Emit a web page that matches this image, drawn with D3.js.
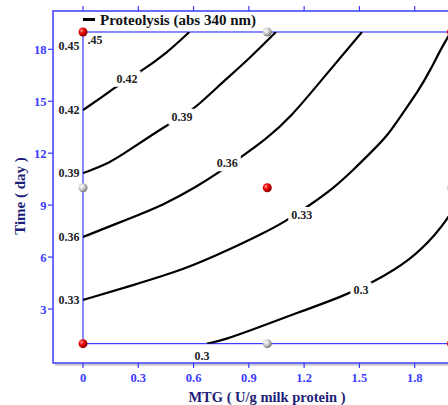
<!DOCTYPE html>
<html>
  <head>
    <meta charset="utf-8">
    <title>Proteolysis contour</title>
    <style>
      body { margin: 0; background: #fff; }
      svg { display: block; }
      text { font-family: "Liberation Serif", "Times New Roman", serif; font-weight: bold; }
    </style>
  </head>
  <body>
    <div id="chart"></div>
    <script src="https://d3js.org/d3.v7.min.js"></script>
    <script>
    // axis ticks
    var xTicks = [0, 0.3, 0.6, 0.9, 1.2, 1.5, 1.8],
        yTicks = [3, 6, 9, 12, 15, 18];

    // contour lines: [MTG, day]
    var c030 = [[0.673,1.0],[0.765,1.21],[0.944,1.9],[1.161,2.77],[1.4,3.69],[1.568,4.5],[1.78,5.83],[1.921,7.39],[1.98,8.26],[2.0,8.6]],
        c033 = [[0,3.52],[0.271,4.38],[0.544,5.25],[0.798,6.45],[0.978,7.37],[1.096,8.04],[1.232,9.01],[1.358,9.97],[1.467,11.03],[1.575,12.18],[1.655,13.05],[1.727,14.2],[1.818,15.55],[1.89,16.9],[1.944,18.06],[1.997,19.0]],
        c036 = [[0,7.16],[0.255,8.24],[0.436,9.01],[0.617,10.06],[0.743,10.93],[0.861,11.8],[0.988,12.76],[1.129,14.09],[1.308,16.4],[1.514,19.0]],
        c039 = [[0,10.85],[0.146,11.43],[0.255,12.21],[0.456,13.63],[0.537,14.09],[0.608,14.61],[0.765,16.17],[0.906,17.5],[1.047,19.0]],
        c042 = [[0,14.49],[0.157,15.65],[0.239,16.28],[0.309,16.69],[0.454,17.77],[0.577,19.0]];

    // labels sitting on the lines
    var lineLabels = ["0.42", "0.39", "0.36", "0.33", "0.3"],
        lineLabelPos = [[0.239,16.3],[0.537,14.1],[0.783,11.42],[1.187,8.43],[1.508,4.1]];

    // labels left of the design box
    var edgeLabels = ["0.45", "0.42", "0.39", "0.36", "0.33"],
        edgeLabelDay = [18.2, 14.49, 10.85, 7.16, 3.52];

    // design points
    var redPts = [[0,19],[0,1],[1,10],[2,19],[2,1]],
        greyPts = [[1,19],[0,10],[1,1],[2,10]];

    var width = 448, height = 405;
    var blue = "#3b3bff", navy = "#1e1e78";

    var x = d3.scaleLinear().domain([0, 1.8]).range([83, 414.7]),
        y = d3.scaleLinear().domain([3, 18]).range([309, 49.3]);

    var svg = d3.select("#chart").append("svg")
      .attr("width", width)
      .attr("height", height);

    var defs = svg.append("defs");
    var gr = defs.append("radialGradient").attr("id", "gRed").attr("cx", "35%").attr("cy", "35%").attr("r", "65%");
    gr.append("stop").attr("offset", "0%").attr("stop-color", "#ff9a9a");
    gr.append("stop").attr("offset", "45%").attr("stop-color", "#ee0000");
    gr.append("stop").attr("offset", "100%").attr("stop-color", "#8a0000");
    var gg = defs.append("radialGradient").attr("id", "gGrey").attr("cx", "35%").attr("cy", "35%").attr("r", "65%");
    gg.append("stop").attr("offset", "0%").attr("stop-color", "#ffffff");
    gg.append("stop").attr("offset", "50%").attr("stop-color", "#cfcfcf");
    gg.append("stop").attr("offset", "100%").attr("stop-color", "#7a7a7a");

    defs.append("clipPath").attr("id", "box")
      .append("rect")
      .attr("x", x(0)).attr("y", y(19))
      .attr("width", x(2) - x(0)).attr("height", y(1) - y(19));

    // outer frame + shadow
    var fTop = 11, fBot = 363, fLeft = 53;
    svg.append("line").attr("x1", fLeft + 2).attr("x2", width + 20)
      .attr("y1", fBot + 1.8).attr("y2", fBot + 1.8)
      .attr("stroke", "#c8c8c8").attr("stroke-width", 2);
    svg.append("rect")
      .attr("x", fLeft).attr("y", fTop)
      .attr("width", 430).attr("height", fBot - fTop)
      .attr("fill", "none").attr("stroke", blue).attr("stroke-width", 1.5);

    // ticks
    svg.selectAll(".xtb").data(xTicks).enter().append("line")
      .attr("x1", d => x(d)).attr("x2", d => x(d))
      .attr("y1", fBot).attr("y2", fBot + 5)
      .attr("stroke", blue).attr("stroke-width", 1.2);
    svg.selectAll(".xtt").data(xTicks).enter().append("line")
      .attr("x1", d => x(d)).attr("x2", d => x(d))
      .attr("y1", fTop).attr("y2", fTop - 5)
      .attr("stroke", blue).attr("stroke-width", 1.2);
    svg.selectAll(".xl").data(xTicks).enter().append("text")
      .attr("x", d => x(d)).attr("y", 381.5)
      .attr("text-anchor", "middle")
      .attr("font-size", 12.5).attr("fill", blue)
      .text(d => d);

    svg.selectAll(".yt").data(yTicks).enter().append("line")
      .attr("x1", fLeft).attr("x2", fLeft - 5)
      .attr("y1", d => y(d)).attr("y2", d => y(d))
      .attr("stroke", blue).attr("stroke-width", 1.2);
    svg.selectAll(".yl").data(yTicks).enter().append("text")
      .attr("x", 46.5).attr("y", d => y(d) + 4.5)
      .attr("text-anchor", "end")
      .attr("font-size", 12.5).attr("fill", blue)
      .text(d => d);

    // axis titles
    svg.append("text")
      .attr("x", 267).attr("y", 402)
      .attr("text-anchor", "middle")
      .attr("font-size", 14.5).attr("fill", navy)
      .text("MTG ( U/g milk protein )");
    svg.append("text")
      .attr("transform", "translate(25," + 196 + ") rotate(-90)")
      .attr("text-anchor", "middle")
      .attr("font-size", 15).attr("fill", navy)
      .text("Time ( day )");

    // legend
    svg.append("line")
      .attr("x1", 83).attr("x2", 95).attr("y1", 19.5).attr("y2", 19.5)
      .attr("stroke", "#000").attr("stroke-width", 3);
    svg.append("text")
      .attr("x", 100).attr("y", 25)
      .attr("font-size", 15).attr("fill", "#111")
      .text("Proteolysis (abs 340 nm)");

    // design box
    svg.append("rect")
      .attr("x", x(0)).attr("y", y(19))
      .attr("width", x(2) - x(0)).attr("height", y(1) - y(19))
      .attr("fill", "none").attr("stroke", blue).attr("stroke-width", 1.2);

    // contour lines
    var line = d3.line()
      .x(d => x(d[0])).y(d => y(d[1]))
      .curve(d3.curveBasis);

    svg.append("g").attr("clip-path", "url(#box)")
      .selectAll("path")
      .data([c030, c033, c036, c039, c042])
      .enter().append("path")
      .attr("d", line)
      .attr("fill", "none")
      .attr("stroke", "#000")
      .attr("stroke-width", 2.2);

    // labels on the lines, with a white gap behind
    var lab = svg.append("g");
    lineLabels.forEach(function (t, i) {
      var g = lab.append("g");
      var tx = g.append("text")
        .attr("x", x(lineLabelPos[i][0])).attr("y", y(lineLabelPos[i][1]) + 4)
        .attr("text-anchor", "middle")
        .attr("font-size", 12).attr("fill", "#222")
        .text(t);
      var b = tx.node().getBBox();
      g.insert("rect", "text")
        .attr("x", b.x - 3).attr("y", b.y - 1)
        .attr("width", b.width + 6).attr("height", b.height + 2)
        .attr("fill", "#fff");
    });

    svg.selectAll(".el").data(edgeLabels).enter().append("text")
      .attr("x", 69).attr("y", (d, i) => y(edgeLabelDay[i]) + 4)
      .attr("text-anchor", "middle")
      .attr("font-size", 12).attr("fill", "#222")
      .text(d => d);

    svg.append("text")
      .attr("x", 95).attr("y", 44)
      .attr("text-anchor", "middle")
      .attr("font-size", 12).attr("fill", "#222")
      .text(".45");
    svg.append("text")
      .attr("x", x(0.646)).attr("y", 360)
      .attr("text-anchor", "middle")
      .attr("font-size", 12).attr("fill", "#222")
      .text("0.3");

    // design points
    svg.selectAll(".pr").data(redPts).enter().append("circle")
      .attr("cx", d => x(d[0])).attr("cy", d => y(d[1]))
      .attr("r", 4.5).attr("fill", "url(#gRed)");
    svg.selectAll(".pg").data(greyPts).enter().append("circle")
      .attr("cx", d => x(d[0])).attr("cy", d => y(d[1]))
      .attr("r", 4.5).attr("fill", "url(#gGrey)");
    </script>
  </body>
</html>
